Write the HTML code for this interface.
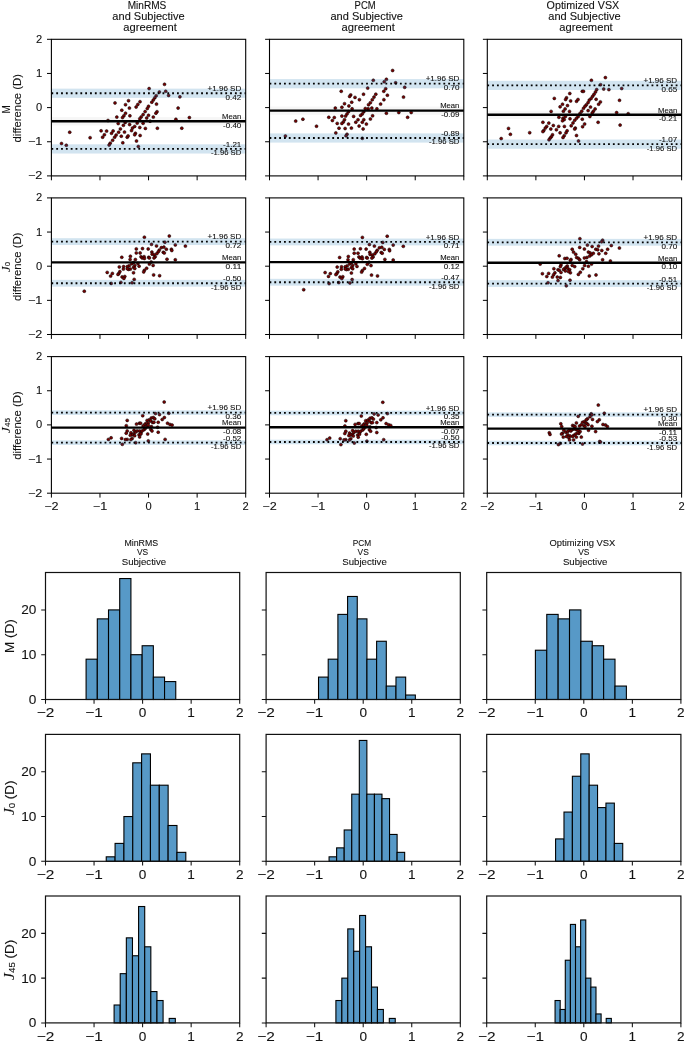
<!DOCTYPE html>
<html><head><meta charset="utf-8"><title>Bland-Altman agreement</title>
<style>html,body{margin:0;padding:0;background:#fff;width:685px;height:1042px;overflow:hidden}svg{display:block;will-change:transform}text{font-family:"Liberation Sans",sans-serif;stroke:#111;stroke-width:0.1px}</style>
</head><body><svg width="685" height="1042" viewBox="0 0 685 1042" font-family="Liberation Sans, sans-serif" fill="#111"><g fill="#780000" stroke="#000" stroke-opacity="0.85" stroke-width="0.6"><circle cx="115.0" cy="102.9" r="1.5"/><circle cx="128.5" cy="100.7" r="1.5"/><circle cx="125.5" cy="104.7" r="1.5"/><circle cx="129.4" cy="108.1" r="1.5"/><circle cx="121.8" cy="110.2" r="1.5"/><circle cx="140.0" cy="101.7" r="1.5"/><circle cx="137.8" cy="104.5" r="1.5"/><circle cx="136.1" cy="107.0" r="1.5"/><circle cx="148.5" cy="106.3" r="1.5"/><circle cx="147.3" cy="108.5" r="1.5"/><circle cx="145.1" cy="111.6" r="1.5"/><circle cx="143.1" cy="114.6" r="1.5"/><circle cx="141.2" cy="116.9" r="1.5"/><circle cx="139.8" cy="118.7" r="1.5"/><circle cx="148.5" cy="115.3" r="1.5"/><circle cx="146.7" cy="118.0" r="1.5"/><circle cx="125.5" cy="113.2" r="1.5"/><circle cx="123.9" cy="115.8" r="1.5"/><circle cx="122.5" cy="117.6" r="1.5"/><circle cx="116.8" cy="117.1" r="1.5"/><circle cx="129.9" cy="115.8" r="1.5"/><circle cx="118.2" cy="123.5" r="1.5"/><circle cx="125.2" cy="122.4" r="1.5"/><circle cx="123.4" cy="125.3" r="1.5"/><circle cx="129.6" cy="124.6" r="1.5"/><circle cx="137.2" cy="123.1" r="1.5"/><circle cx="143.1" cy="123.3" r="1.5"/><circle cx="134.7" cy="126.4" r="1.5"/><circle cx="132.5" cy="128.0" r="1.5"/><circle cx="139.8" cy="127.5" r="1.5"/><circle cx="145.4" cy="128.4" r="1.5"/><circle cx="120.4" cy="128.9" r="1.5"/><circle cx="118.6" cy="132.2" r="1.5"/><circle cx="124.5" cy="132.1" r="1.5"/><circle cx="131.5" cy="130.6" r="1.5"/><circle cx="135.4" cy="133.3" r="1.5"/><circle cx="134.7" cy="134.8" r="1.5"/><circle cx="140.1" cy="135.5" r="1.5"/><circle cx="106.6" cy="131.1" r="1.5"/><circle cx="101.1" cy="130.8" r="1.5"/><circle cx="104.4" cy="134.8" r="1.5"/><circle cx="102.6" cy="137.2" r="1.5"/><circle cx="113.1" cy="130.9" r="1.5"/><circle cx="111.5" cy="133.3" r="1.5"/><circle cx="116.1" cy="135.1" r="1.5"/><circle cx="114.6" cy="137.2" r="1.5"/><circle cx="112.6" cy="140.3" r="1.5"/><circle cx="110.2" cy="143.2" r="1.5"/><circle cx="121.3" cy="136.2" r="1.5"/><circle cx="127.2" cy="137.2" r="1.5"/><circle cx="128.1" cy="135.9" r="1.5"/><circle cx="122.8" cy="142.8" r="1.5"/><circle cx="136.5" cy="141.0" r="1.5"/><circle cx="108.0" cy="120.5" r="1.5"/><circle cx="61.5" cy="143.5" r="1.5"/><circle cx="66.3" cy="145.3" r="1.5"/><circle cx="69.7" cy="132.2" r="1.5"/><circle cx="90.1" cy="137.7" r="1.5"/><circle cx="109.1" cy="145.0" r="1.5"/><circle cx="138.3" cy="146.5" r="1.5"/><circle cx="149.1" cy="88.6" r="1.5"/><circle cx="164.5" cy="84.3" r="1.5"/><circle cx="159.4" cy="92.0" r="1.5"/><circle cx="165.7" cy="91.3" r="1.5"/><circle cx="168.6" cy="95.4" r="1.5"/><circle cx="179.9" cy="96.8" r="1.5"/><circle cx="156.2" cy="95.7" r="1.5"/><circle cx="154.8" cy="97.8" r="1.5"/><circle cx="153.3" cy="100.0" r="1.5"/><circle cx="151.8" cy="102.2" r="1.5"/><circle cx="156.5" cy="104.1" r="1.5"/><circle cx="178.1" cy="108.1" r="1.5"/><circle cx="157.0" cy="111.7" r="1.5"/><circle cx="155.9" cy="113.2" r="1.5"/><circle cx="153.3" cy="117.1" r="1.5"/><circle cx="175.9" cy="119.3" r="1.5"/><circle cx="189.4" cy="117.6" r="1.5"/><circle cx="150.1" cy="121.2" r="1.5"/><circle cx="157.4" cy="128.2" r="1.5"/><circle cx="181.8" cy="128.2" r="1.5"/></g><rect x="51.40" y="88.65" width="194.30" height="9.22" fill="#1f77b4" fill-opacity="0.2"/><rect x="51.40" y="144.31" width="194.30" height="9.22" fill="#1f77b4" fill-opacity="0.2"/><rect x="51.40" y="117.06" width="194.30" height="8.40" fill="#000" fill-opacity="0.035"/><line x1="51.40" x2="245.70" y1="121.26" y2="121.26" stroke="#000" stroke-width="2.35"/><line x1="51.40" x2="245.70" y1="93.26" y2="93.26" stroke="#000" stroke-width="1.82" stroke-dasharray="1.82 3.01"/><line x1="51.40" x2="245.70" y1="148.92" y2="148.92" stroke="#000" stroke-width="1.82" stroke-dasharray="1.82 3.01"/><text x="241.30" y="90.96" text-anchor="end" font-size="7.47" textLength="33.75" lengthAdjust="spacingAndGlyphs">+1.96 SD</text><text x="241.30" y="99.66" text-anchor="end" font-size="7.47" textLength="15.70" lengthAdjust="spacingAndGlyphs">0.42</text><text x="241.30" y="119.06" text-anchor="end" font-size="7.47" textLength="19.21" lengthAdjust="spacingAndGlyphs">Mean</text><text x="241.30" y="127.66" text-anchor="end" font-size="7.47" textLength="18.24" lengthAdjust="spacingAndGlyphs">-0.40</text><text x="241.30" y="146.82" text-anchor="end" font-size="7.47" textLength="18.24" lengthAdjust="spacingAndGlyphs">-1.21</text><text x="241.30" y="155.42" text-anchor="end" font-size="7.47" textLength="30.39" lengthAdjust="spacingAndGlyphs">-1.96 SD</text><rect x="51.40" y="39.30" width="194.30" height="136.60" fill="none" stroke="#000" stroke-width="1.1"/><path d="M47.00 175.90H51.40M51.40 175.90V180.30M47.00 141.75H51.40M99.97 175.90V180.30M47.00 107.60H51.40M148.55 175.90V180.30M47.00 73.45H51.40M197.13 175.90V180.30M47.00 39.30H51.40M245.70 175.90V180.30" stroke="#000" stroke-width="1.0" fill="none"/><text x="42.30" y="179.45" text-anchor="end" font-size="10.34" textLength="14.37" lengthAdjust="spacingAndGlyphs">−2</text><text x="42.30" y="145.30" text-anchor="end" font-size="10.34" textLength="14.37" lengthAdjust="spacingAndGlyphs">−1</text><text x="42.30" y="111.15" text-anchor="end" font-size="10.34" textLength="6.20" lengthAdjust="spacingAndGlyphs">0</text><text x="42.30" y="77.00" text-anchor="end" font-size="10.34" textLength="6.20" lengthAdjust="spacingAndGlyphs">1</text><text x="42.30" y="42.85" text-anchor="end" font-size="10.34" textLength="6.20" lengthAdjust="spacingAndGlyphs">2</text><text x="147.00" y="8.80" text-anchor="middle" font-size="10.34" textLength="38.68" lengthAdjust="spacingAndGlyphs">MinRMS</text><text x="148.55" y="20.00" text-anchor="middle" font-size="10.34" textLength="72.37" lengthAdjust="spacingAndGlyphs">and Subjective</text><text x="150.10" y="31.20" text-anchor="middle" font-size="10.34" textLength="53.46" lengthAdjust="spacingAndGlyphs">agreement</text><g fill="#780000" stroke="#000" stroke-opacity="0.85" stroke-width="0.6"><circle cx="392.6" cy="70.5" r="1.5"/><circle cx="386.4" cy="79.3" r="1.5"/><circle cx="384.2" cy="81.8" r="1.5"/><circle cx="373.3" cy="80.3" r="1.5"/><circle cx="395.6" cy="82.8" r="1.5"/><circle cx="404.7" cy="87.3" r="1.5"/><circle cx="367.7" cy="88.1" r="1.5"/><circle cx="341.2" cy="91.3" r="1.5"/><circle cx="385.7" cy="88.7" r="1.5"/><circle cx="383.8" cy="91.3" r="1.5"/><circle cx="387.4" cy="95.2" r="1.5"/><circle cx="403.5" cy="97.1" r="1.5"/><circle cx="383.9" cy="99.7" r="1.5"/><circle cx="380.6" cy="104.1" r="1.5"/><circle cx="350.7" cy="94.9" r="1.5"/><circle cx="349.6" cy="96.4" r="1.5"/><circle cx="355.0" cy="97.4" r="1.5"/><circle cx="363.5" cy="94.2" r="1.5"/><circle cx="359.4" cy="99.7" r="1.5"/><circle cx="375.8" cy="94.2" r="1.5"/><circle cx="374.0" cy="97.1" r="1.5"/><circle cx="372.3" cy="99.7" r="1.5"/><circle cx="370.4" cy="102.7" r="1.5"/><circle cx="368.5" cy="104.7" r="1.5"/><circle cx="351.7" cy="102.2" r="1.5"/><circle cx="344.5" cy="103.7" r="1.5"/><circle cx="348.9" cy="105.9" r="1.5"/><circle cx="341.9" cy="107.3" r="1.5"/><circle cx="335.3" cy="108.1" r="1.5"/><circle cx="352.1" cy="108.8" r="1.5"/><circle cx="348.5" cy="111.7" r="1.5"/><circle cx="347.0" cy="113.9" r="1.5"/><circle cx="345.6" cy="116.1" r="1.5"/><circle cx="376.9" cy="108.8" r="1.5"/><circle cx="371.8" cy="108.1" r="1.5"/><circle cx="368.2" cy="108.8" r="1.5"/><circle cx="365.3" cy="108.5" r="1.5"/><circle cx="363.8" cy="111.7" r="1.5"/><circle cx="362.3" cy="113.9" r="1.5"/><circle cx="360.6" cy="115.4" r="1.5"/><circle cx="386.4" cy="113.2" r="1.5"/><circle cx="398.8" cy="112.5" r="1.5"/><circle cx="411.2" cy="112.5" r="1.5"/><circle cx="407.6" cy="117.3" r="1.5"/><circle cx="328.8" cy="117.3" r="1.5"/><circle cx="334.3" cy="117.5" r="1.5"/><circle cx="332.4" cy="120.5" r="1.5"/><circle cx="341.9" cy="116.1" r="1.5"/><circle cx="353.6" cy="116.4" r="1.5"/><circle cx="358.0" cy="119.7" r="1.5"/><circle cx="355.8" cy="122.2" r="1.5"/><circle cx="363.8" cy="119.7" r="1.5"/><circle cx="362.3" cy="122.2" r="1.5"/><circle cx="372.6" cy="115.8" r="1.5"/><circle cx="370.4" cy="119.0" r="1.5"/><circle cx="366.4" cy="124.1" r="1.5"/><circle cx="359.1" cy="126.0" r="1.5"/><circle cx="363.1" cy="128.9" r="1.5"/><circle cx="344.5" cy="119.7" r="1.5"/><circle cx="343.4" cy="121.9" r="1.5"/><circle cx="341.9" cy="123.4" r="1.5"/><circle cx="348.5" cy="124.1" r="1.5"/><circle cx="337.2" cy="123.4" r="1.5"/><circle cx="339.0" cy="128.2" r="1.5"/><circle cx="345.1" cy="128.5" r="1.5"/><circle cx="351.4" cy="128.1" r="1.5"/><circle cx="335.8" cy="132.9" r="1.5"/><circle cx="347.0" cy="134.3" r="1.5"/><circle cx="346.0" cy="135.8" r="1.5"/><circle cx="362.3" cy="138.3" r="1.5"/><circle cx="285.4" cy="136.0" r="1.5"/><circle cx="295.7" cy="121.1" r="1.5"/><circle cx="302.9" cy="119.2" r="1.5"/><circle cx="316.5" cy="126.2" r="1.5"/></g><rect x="269.50" y="79.08" width="194.30" height="9.22" fill="#1f77b4" fill-opacity="0.2"/><rect x="269.50" y="133.38" width="194.30" height="9.22" fill="#1f77b4" fill-opacity="0.2"/><rect x="269.50" y="106.47" width="194.30" height="8.40" fill="#000" fill-opacity="0.035"/><line x1="269.50" x2="463.80" y1="110.67" y2="110.67" stroke="#000" stroke-width="2.35"/><line x1="269.50" x2="463.80" y1="83.69" y2="83.69" stroke="#000" stroke-width="1.82" stroke-dasharray="1.82 3.01"/><line x1="269.50" x2="463.80" y1="137.99" y2="137.99" stroke="#000" stroke-width="1.82" stroke-dasharray="1.82 3.01"/><text x="459.40" y="81.39" text-anchor="end" font-size="7.47" textLength="33.75" lengthAdjust="spacingAndGlyphs">+1.96 SD</text><text x="459.40" y="90.09" text-anchor="end" font-size="7.47" textLength="15.70" lengthAdjust="spacingAndGlyphs">0.70</text><text x="459.40" y="108.47" text-anchor="end" font-size="7.47" textLength="19.21" lengthAdjust="spacingAndGlyphs">Mean</text><text x="459.40" y="117.07" text-anchor="end" font-size="7.47" textLength="18.24" lengthAdjust="spacingAndGlyphs">-0.09</text><text x="459.40" y="135.89" text-anchor="end" font-size="7.47" textLength="18.24" lengthAdjust="spacingAndGlyphs">-0.89</text><text x="459.40" y="144.49" text-anchor="end" font-size="7.47" textLength="30.39" lengthAdjust="spacingAndGlyphs">-1.96 SD</text><rect x="269.50" y="39.30" width="194.30" height="136.60" fill="none" stroke="#000" stroke-width="1.1"/><path d="M265.10 175.90H269.50M269.50 175.90V180.30M265.10 141.75H269.50M318.07 175.90V180.30M265.10 107.60H269.50M366.65 175.90V180.30M265.10 73.45H269.50M415.23 175.90V180.30M265.10 39.30H269.50M463.80 175.90V180.30" stroke="#000" stroke-width="1.0" fill="none"/><text x="365.10" y="8.80" text-anchor="middle" font-size="10.34" textLength="21.10" lengthAdjust="spacingAndGlyphs">PCM</text><text x="366.65" y="20.00" text-anchor="middle" font-size="10.34" textLength="72.37" lengthAdjust="spacingAndGlyphs">and Subjective</text><text x="368.20" y="31.20" text-anchor="middle" font-size="10.34" textLength="53.46" lengthAdjust="spacingAndGlyphs">agreement</text><g fill="#780000" stroke="#000" stroke-opacity="0.85" stroke-width="0.6"><circle cx="591.4" cy="80.3" r="1.5"/><circle cx="605.4" cy="77.6" r="1.5"/><circle cx="600.6" cy="84.7" r="1.5"/><circle cx="603.7" cy="89.0" r="1.5"/><circle cx="608.9" cy="89.6" r="1.5"/><circle cx="596.7" cy="89.6" r="1.5"/><circle cx="595.5" cy="91.9" r="1.5"/><circle cx="594.0" cy="94.3" r="1.5"/><circle cx="592.6" cy="96.3" r="1.5"/><circle cx="591.1" cy="98.4" r="1.5"/><circle cx="589.3" cy="100.1" r="1.5"/><circle cx="588.1" cy="102.5" r="1.5"/><circle cx="586.4" cy="104.8" r="1.5"/><circle cx="585.0" cy="106.3" r="1.5"/><circle cx="583.5" cy="108.3" r="1.5"/><circle cx="581.7" cy="111.2" r="1.5"/><circle cx="580.0" cy="113.5" r="1.5"/><circle cx="578.2" cy="116.5" r="1.5"/><circle cx="576.5" cy="118.2" r="1.5"/><circle cx="574.7" cy="120.3" r="1.5"/><circle cx="573.0" cy="122.9" r="1.5"/><circle cx="571.2" cy="125.8" r="1.5"/><circle cx="575.3" cy="128.1" r="1.5"/><circle cx="574.7" cy="129.0" r="1.5"/><circle cx="576.5" cy="135.5" r="1.5"/><circle cx="578.5" cy="141.0" r="1.5"/><circle cx="582.3" cy="91.3" r="1.5"/><circle cx="583.5" cy="91.3" r="1.5"/><circle cx="569.8" cy="93.5" r="1.5"/><circle cx="554.3" cy="98.4" r="1.5"/><circle cx="566.5" cy="97.8" r="1.5"/><circle cx="565.6" cy="99.5" r="1.5"/><circle cx="570.6" cy="100.9" r="1.5"/><circle cx="576.5" cy="101.3" r="1.5"/><circle cx="578.0" cy="99.5" r="1.5"/><circle cx="562.5" cy="104.2" r="1.5"/><circle cx="567.5" cy="105.6" r="1.5"/><circle cx="560.1" cy="106.8" r="1.5"/><circle cx="565.1" cy="108.9" r="1.5"/><circle cx="563.4" cy="111.2" r="1.5"/><circle cx="569.5" cy="111.4" r="1.5"/><circle cx="551.1" cy="111.4" r="1.5"/><circle cx="558.9" cy="117.3" r="1.5"/><circle cx="563.0" cy="118.2" r="1.5"/><circle cx="564.2" cy="119.6" r="1.5"/><circle cx="562.5" cy="120.8" r="1.5"/><circle cx="570.0" cy="118.8" r="1.5"/><circle cx="565.4" cy="116.5" r="1.5"/><circle cx="582.3" cy="119.2" r="1.5"/><circle cx="584.6" cy="124.0" r="1.5"/><circle cx="582.6" cy="126.7" r="1.5"/><circle cx="598.1" cy="122.3" r="1.5"/><circle cx="596.1" cy="99.3" r="1.5"/><circle cx="600.4" cy="101.9" r="1.5"/><circle cx="598.6" cy="104.2" r="1.5"/><circle cx="590.5" cy="107.1" r="1.5"/><circle cx="588.1" cy="110.6" r="1.5"/><circle cx="595.1" cy="108.9" r="1.5"/><circle cx="593.4" cy="111.2" r="1.5"/><circle cx="592.2" cy="113.0" r="1.5"/><circle cx="589.9" cy="116.5" r="1.5"/><circle cx="542.9" cy="122.3" r="1.5"/><circle cx="548.8" cy="123.1" r="1.5"/><circle cx="546.7" cy="126.4" r="1.5"/><circle cx="545.3" cy="128.1" r="1.5"/><circle cx="543.8" cy="130.5" r="1.5"/><circle cx="542.9" cy="131.6" r="1.5"/><circle cx="553.3" cy="125.5" r="1.5"/><circle cx="558.7" cy="126.4" r="1.5"/><circle cx="550.8" cy="129.0" r="1.5"/><circle cx="556.4" cy="129.7" r="1.5"/><circle cx="564.4" cy="126.4" r="1.5"/><circle cx="560.1" cy="132.8" r="1.5"/><circle cx="567.1" cy="130.8" r="1.5"/><circle cx="566.0" cy="132.8" r="1.5"/><circle cx="564.2" cy="135.7" r="1.5"/><circle cx="563.0" cy="137.5" r="1.5"/><circle cx="552.5" cy="134.8" r="1.5"/><circle cx="551.4" cy="136.7" r="1.5"/><circle cx="550.2" cy="138.1" r="1.5"/><circle cx="549.0" cy="139.8" r="1.5"/><circle cx="501.2" cy="138.6" r="1.5"/><circle cx="508.5" cy="128.4" r="1.5"/><circle cx="510.4" cy="134.3" r="1.5"/><circle cx="529.7" cy="132.7" r="1.5"/><circle cx="621.7" cy="88.5" r="1.5"/><circle cx="619.5" cy="100.3" r="1.5"/><circle cx="620.1" cy="125.1" r="1.5"/><circle cx="616.6" cy="112.6" r="1.5"/><circle cx="628.2" cy="113.7" r="1.5"/></g><rect x="487.30" y="80.79" width="194.30" height="9.22" fill="#1f77b4" fill-opacity="0.2"/><rect x="487.30" y="139.53" width="194.30" height="9.22" fill="#1f77b4" fill-opacity="0.2"/><rect x="487.30" y="110.57" width="194.30" height="8.40" fill="#000" fill-opacity="0.035"/><line x1="487.30" x2="681.60" y1="114.77" y2="114.77" stroke="#000" stroke-width="2.35"/><line x1="487.30" x2="681.60" y1="85.40" y2="85.40" stroke="#000" stroke-width="1.82" stroke-dasharray="1.82 3.01"/><line x1="487.30" x2="681.60" y1="144.14" y2="144.14" stroke="#000" stroke-width="1.82" stroke-dasharray="1.82 3.01"/><text x="677.20" y="83.10" text-anchor="end" font-size="7.47" textLength="33.75" lengthAdjust="spacingAndGlyphs">+1.96 SD</text><text x="677.20" y="91.80" text-anchor="end" font-size="7.47" textLength="15.70" lengthAdjust="spacingAndGlyphs">0.65</text><text x="677.20" y="112.57" text-anchor="end" font-size="7.47" textLength="19.21" lengthAdjust="spacingAndGlyphs">Mean</text><text x="677.20" y="121.17" text-anchor="end" font-size="7.47" textLength="18.24" lengthAdjust="spacingAndGlyphs">-0.21</text><text x="677.20" y="142.04" text-anchor="end" font-size="7.47" textLength="18.24" lengthAdjust="spacingAndGlyphs">-1.07</text><text x="677.20" y="150.64" text-anchor="end" font-size="7.47" textLength="30.39" lengthAdjust="spacingAndGlyphs">-1.96 SD</text><rect x="487.30" y="39.30" width="194.30" height="136.60" fill="none" stroke="#000" stroke-width="1.1"/><path d="M482.90 175.90H487.30M487.30 175.90V180.30M482.90 141.75H487.30M535.88 175.90V180.30M482.90 107.60H487.30M584.45 175.90V180.30M482.90 73.45H487.30M633.03 175.90V180.30M482.90 39.30H487.30M681.60 175.90V180.30" stroke="#000" stroke-width="1.0" fill="none"/><text x="582.90" y="8.80" text-anchor="middle" font-size="10.34" textLength="72.54" lengthAdjust="spacingAndGlyphs">Optimized VSX</text><text x="584.45" y="20.00" text-anchor="middle" font-size="10.34" textLength="72.37" lengthAdjust="spacingAndGlyphs">and Subjective</text><text x="586.00" y="31.20" text-anchor="middle" font-size="10.34" textLength="53.46" lengthAdjust="spacingAndGlyphs">agreement</text><g fill="#780000" stroke="#000" stroke-opacity="0.85" stroke-width="0.6"><circle cx="144.4" cy="237.2" r="1.5"/><circle cx="169.3" cy="236.0" r="1.5"/><circle cx="151.5" cy="244.3" r="1.5"/><circle cx="164.9" cy="242.2" r="1.5"/><circle cx="175.3" cy="244.9" r="1.5"/><circle cx="185.4" cy="246.1" r="1.5"/><circle cx="156.5" cy="245.9" r="1.5"/><circle cx="136.3" cy="248.9" r="1.5"/><circle cx="142.5" cy="248.6" r="1.5"/><circle cx="148.2" cy="248.9" r="1.5"/><circle cx="161.4" cy="247.6" r="1.5"/><circle cx="163.9" cy="247.1" r="1.5"/><circle cx="166.4" cy="249.2" r="1.5"/><circle cx="171.4" cy="249.2" r="1.5"/><circle cx="171.8" cy="250.5" r="1.5"/><circle cx="163.3" cy="252.3" r="1.5"/><circle cx="164.3" cy="252.9" r="1.5"/><circle cx="159.3" cy="250.1" r="1.5"/><circle cx="158.3" cy="251.7" r="1.5"/><circle cx="156.9" cy="253.6" r="1.5"/><circle cx="151.9" cy="252.1" r="1.5"/><circle cx="152.2" cy="254.2" r="1.5"/><circle cx="154.4" cy="254.8" r="1.5"/><circle cx="155.2" cy="256.7" r="1.5"/><circle cx="154.0" cy="257.9" r="1.5"/><circle cx="136.3" cy="252.9" r="1.5"/><circle cx="140.1" cy="252.9" r="1.5"/><circle cx="141.0" cy="256.7" r="1.5"/><circle cx="142.2" cy="257.9" r="1.5"/><circle cx="144.1" cy="256.7" r="1.5"/><circle cx="144.4" cy="258.5" r="1.5"/><circle cx="148.7" cy="257.3" r="1.5"/><circle cx="149.4" cy="257.9" r="1.5"/><circle cx="121.8" cy="257.3" r="1.5"/><circle cx="130.4" cy="256.3" r="1.5"/><circle cx="130.1" cy="259.5" r="1.5"/><circle cx="135.4" cy="259.5" r="1.5"/><circle cx="167.0" cy="259.2" r="1.5"/><circle cx="175.3" cy="259.8" r="1.5"/><circle cx="151.2" cy="262.0" r="1.5"/><circle cx="149.4" cy="264.1" r="1.5"/><circle cx="153.1" cy="265.4" r="1.5"/><circle cx="133.5" cy="262.5" r="1.5"/><circle cx="131.7" cy="263.8" r="1.5"/><circle cx="137.9" cy="263.5" r="1.5"/><circle cx="134.8" cy="265.4" r="1.5"/><circle cx="139.1" cy="266.2" r="1.5"/><circle cx="129.2" cy="265.7" r="1.5"/><circle cx="127.3" cy="266.6" r="1.5"/><circle cx="123.6" cy="266.6" r="1.5"/><circle cx="119.3" cy="266.9" r="1.5"/><circle cx="133.5" cy="267.2" r="1.5"/><circle cx="134.8" cy="268.5" r="1.5"/><circle cx="130.4" cy="269.1" r="1.5"/><circle cx="128.6" cy="269.4" r="1.5"/><circle cx="127.3" cy="268.7" r="1.5"/><circle cx="123.4" cy="269.1" r="1.5"/><circle cx="119.9" cy="271.6" r="1.5"/><circle cx="118.9" cy="273.4" r="1.5"/><circle cx="118.0" cy="274.4" r="1.5"/><circle cx="133.5" cy="272.8" r="1.5"/><circle cx="144.4" cy="270.3" r="1.5"/><circle cx="143.7" cy="271.9" r="1.5"/><circle cx="146.6" cy="268.2" r="1.5"/><circle cx="107.2" cy="272.4" r="1.5"/><circle cx="112.4" cy="273.4" r="1.5"/><circle cx="110.6" cy="276.1" r="1.5"/><circle cx="122.1" cy="276.9" r="1.5"/><circle cx="124.8" cy="276.5" r="1.5"/><circle cx="123.9" cy="278.4" r="1.5"/><circle cx="134.2" cy="279.4" r="1.5"/><circle cx="132.1" cy="282.7" r="1.5"/><circle cx="120.9" cy="282.4" r="1.5"/><circle cx="111.2" cy="283.4" r="1.5"/><circle cx="153.6" cy="274.9" r="1.5"/><circle cx="159.6" cy="275.7" r="1.5"/><circle cx="84.3" cy="291.2" r="1.5"/></g><rect x="51.40" y="238.20" width="194.30" height="6.83" fill="#1f77b4" fill-opacity="0.2"/><rect x="51.40" y="279.86" width="194.30" height="6.83" fill="#1f77b4" fill-opacity="0.2"/><line x1="51.40" x2="245.70" y1="262.44" y2="262.44" stroke="#000" stroke-width="2.35"/><line x1="51.40" x2="245.70" y1="241.61" y2="241.61" stroke="#000" stroke-width="1.82" stroke-dasharray="1.82 3.01"/><line x1="51.40" x2="245.70" y1="283.27" y2="283.27" stroke="#000" stroke-width="1.82" stroke-dasharray="1.82 3.01"/><text x="241.30" y="239.31" text-anchor="end" font-size="7.47" textLength="33.75" lengthAdjust="spacingAndGlyphs">+1.96 SD</text><text x="241.30" y="248.01" text-anchor="end" font-size="7.47" textLength="15.70" lengthAdjust="spacingAndGlyphs">0.72</text><text x="241.30" y="260.24" text-anchor="end" font-size="7.47" textLength="19.21" lengthAdjust="spacingAndGlyphs">Mean</text><text x="241.30" y="268.84" text-anchor="end" font-size="7.47" textLength="15.70" lengthAdjust="spacingAndGlyphs">0.11</text><text x="241.30" y="281.17" text-anchor="end" font-size="7.47" textLength="18.24" lengthAdjust="spacingAndGlyphs">-0.50</text><text x="241.30" y="289.77" text-anchor="end" font-size="7.47" textLength="30.39" lengthAdjust="spacingAndGlyphs">-1.96 SD</text><rect x="51.40" y="197.90" width="194.30" height="136.60" fill="none" stroke="#000" stroke-width="1.1"/><path d="M47.00 334.50H51.40M51.40 334.50V338.90M47.00 300.35H51.40M99.97 334.50V338.90M47.00 266.20H51.40M148.55 334.50V338.90M47.00 232.05H51.40M197.13 334.50V338.90M47.00 197.90H51.40M245.70 334.50V338.90" stroke="#000" stroke-width="1.0" fill="none"/><text x="42.30" y="338.05" text-anchor="end" font-size="10.34" textLength="14.37" lengthAdjust="spacingAndGlyphs">−2</text><text x="42.30" y="303.90" text-anchor="end" font-size="10.34" textLength="14.37" lengthAdjust="spacingAndGlyphs">−1</text><text x="42.30" y="269.75" text-anchor="end" font-size="10.34" textLength="6.20" lengthAdjust="spacingAndGlyphs">0</text><text x="42.30" y="235.60" text-anchor="end" font-size="10.34" textLength="6.20" lengthAdjust="spacingAndGlyphs">1</text><text x="42.30" y="201.45" text-anchor="end" font-size="10.34" textLength="6.20" lengthAdjust="spacingAndGlyphs">2</text><g fill="#780000" stroke="#000" stroke-opacity="0.85" stroke-width="0.6"><circle cx="362.4" cy="237.4" r="1.5"/><circle cx="387.2" cy="236.2" r="1.5"/><circle cx="369.4" cy="244.5" r="1.5"/><circle cx="382.8" cy="242.4" r="1.5"/><circle cx="393.2" cy="245.1" r="1.5"/><circle cx="403.3" cy="246.3" r="1.5"/><circle cx="374.4" cy="246.1" r="1.5"/><circle cx="354.2" cy="249.1" r="1.5"/><circle cx="360.4" cy="248.8" r="1.5"/><circle cx="366.1" cy="249.1" r="1.5"/><circle cx="379.4" cy="247.8" r="1.5"/><circle cx="381.8" cy="247.3" r="1.5"/><circle cx="384.3" cy="249.4" r="1.5"/><circle cx="389.3" cy="249.4" r="1.5"/><circle cx="389.6" cy="250.7" r="1.5"/><circle cx="381.2" cy="252.5" r="1.5"/><circle cx="382.2" cy="253.2" r="1.5"/><circle cx="377.2" cy="250.3" r="1.5"/><circle cx="376.2" cy="251.9" r="1.5"/><circle cx="374.8" cy="253.8" r="1.5"/><circle cx="369.8" cy="252.3" r="1.5"/><circle cx="370.1" cy="254.4" r="1.5"/><circle cx="372.3" cy="255.0" r="1.5"/><circle cx="373.1" cy="256.9" r="1.5"/><circle cx="371.9" cy="258.1" r="1.5"/><circle cx="354.2" cy="253.2" r="1.5"/><circle cx="358.0" cy="253.2" r="1.5"/><circle cx="358.9" cy="256.9" r="1.5"/><circle cx="360.1" cy="258.1" r="1.5"/><circle cx="362.0" cy="256.9" r="1.5"/><circle cx="362.4" cy="258.7" r="1.5"/><circle cx="366.6" cy="257.5" r="1.5"/><circle cx="367.3" cy="258.1" r="1.5"/><circle cx="339.6" cy="257.5" r="1.5"/><circle cx="348.3" cy="256.5" r="1.5"/><circle cx="348.0" cy="259.7" r="1.5"/><circle cx="353.3" cy="259.7" r="1.5"/><circle cx="384.9" cy="259.4" r="1.5"/><circle cx="393.2" cy="260.0" r="1.5"/><circle cx="369.1" cy="262.2" r="1.5"/><circle cx="367.3" cy="264.3" r="1.5"/><circle cx="371.0" cy="265.6" r="1.5"/><circle cx="351.4" cy="262.7" r="1.5"/><circle cx="349.6" cy="263.9" r="1.5"/><circle cx="355.8" cy="263.7" r="1.5"/><circle cx="352.7" cy="265.6" r="1.5"/><circle cx="357.0" cy="266.4" r="1.5"/><circle cx="347.1" cy="265.9" r="1.5"/><circle cx="345.2" cy="266.8" r="1.5"/><circle cx="341.5" cy="266.8" r="1.5"/><circle cx="337.2" cy="267.1" r="1.5"/><circle cx="351.4" cy="267.4" r="1.5"/><circle cx="352.7" cy="268.7" r="1.5"/><circle cx="348.3" cy="269.3" r="1.5"/><circle cx="346.5" cy="269.6" r="1.5"/><circle cx="345.2" cy="268.9" r="1.5"/><circle cx="341.3" cy="269.3" r="1.5"/><circle cx="337.8" cy="271.8" r="1.5"/><circle cx="336.8" cy="273.6" r="1.5"/><circle cx="335.9" cy="274.6" r="1.5"/><circle cx="351.4" cy="273.0" r="1.5"/><circle cx="362.4" cy="270.5" r="1.5"/><circle cx="361.6" cy="272.1" r="1.5"/><circle cx="364.5" cy="268.4" r="1.5"/><circle cx="325.1" cy="272.6" r="1.5"/><circle cx="330.3" cy="273.6" r="1.5"/><circle cx="328.5" cy="276.4" r="1.5"/><circle cx="340.0" cy="277.1" r="1.5"/><circle cx="342.8" cy="276.7" r="1.5"/><circle cx="341.8" cy="278.6" r="1.5"/><circle cx="352.1" cy="279.6" r="1.5"/><circle cx="349.9" cy="282.9" r="1.5"/><circle cx="338.8" cy="282.6" r="1.5"/><circle cx="329.1" cy="283.6" r="1.5"/><circle cx="371.5" cy="275.1" r="1.5"/><circle cx="377.5" cy="275.9" r="1.5"/><circle cx="303.7" cy="289.7" r="1.5"/></g><rect x="269.50" y="238.54" width="194.30" height="6.83" fill="#1f77b4" fill-opacity="0.2"/><rect x="269.50" y="278.84" width="194.30" height="6.83" fill="#1f77b4" fill-opacity="0.2"/><line x1="269.50" x2="463.80" y1="262.10" y2="262.10" stroke="#000" stroke-width="2.35"/><line x1="269.50" x2="463.80" y1="241.95" y2="241.95" stroke="#000" stroke-width="1.82" stroke-dasharray="1.82 3.01"/><line x1="269.50" x2="463.80" y1="282.25" y2="282.25" stroke="#000" stroke-width="1.82" stroke-dasharray="1.82 3.01"/><text x="459.40" y="239.65" text-anchor="end" font-size="7.47" textLength="33.75" lengthAdjust="spacingAndGlyphs">+1.96 SD</text><text x="459.40" y="248.35" text-anchor="end" font-size="7.47" textLength="15.70" lengthAdjust="spacingAndGlyphs">0.71</text><text x="459.40" y="259.90" text-anchor="end" font-size="7.47" textLength="19.21" lengthAdjust="spacingAndGlyphs">Mean</text><text x="459.40" y="268.50" text-anchor="end" font-size="7.47" textLength="15.70" lengthAdjust="spacingAndGlyphs">0.12</text><text x="459.40" y="280.15" text-anchor="end" font-size="7.47" textLength="18.24" lengthAdjust="spacingAndGlyphs">-0.47</text><text x="459.40" y="288.75" text-anchor="end" font-size="7.47" textLength="30.39" lengthAdjust="spacingAndGlyphs">-1.96 SD</text><rect x="269.50" y="197.90" width="194.30" height="136.60" fill="none" stroke="#000" stroke-width="1.1"/><path d="M265.10 334.50H269.50M269.50 334.50V338.90M265.10 300.35H269.50M318.07 334.50V338.90M265.10 266.20H269.50M366.65 334.50V338.90M265.10 232.05H269.50M415.23 334.50V338.90M265.10 197.90H269.50M463.80 334.50V338.90" stroke="#000" stroke-width="1.0" fill="none"/><g fill="#780000" stroke="#000" stroke-opacity="0.85" stroke-width="0.6"><circle cx="579.9" cy="238.7" r="1.5"/><circle cx="602.6" cy="240.2" r="1.5"/><circle cx="601.6" cy="241.8" r="1.5"/><circle cx="587.4" cy="245.1" r="1.5"/><circle cx="611.3" cy="245.5" r="1.5"/><circle cx="592.1" cy="246.5" r="1.5"/><circle cx="598.5" cy="246.1" r="1.5"/><circle cx="579.7" cy="247.4" r="1.5"/><circle cx="584.4" cy="249.0" r="1.5"/><circle cx="572.2" cy="249.2" r="1.5"/><circle cx="595.8" cy="249.2" r="1.5"/><circle cx="597.7" cy="249.8" r="1.5"/><circle cx="601.8" cy="250.5" r="1.5"/><circle cx="607.6" cy="249.2" r="1.5"/><circle cx="619.4" cy="248.0" r="1.5"/><circle cx="573.5" cy="252.1" r="1.5"/><circle cx="588.4" cy="252.1" r="1.5"/><circle cx="590.2" cy="252.9" r="1.5"/><circle cx="593.3" cy="253.3" r="1.5"/><circle cx="598.9" cy="253.8" r="1.5"/><circle cx="605.7" cy="253.3" r="1.5"/><circle cx="575.7" cy="254.2" r="1.5"/><circle cx="591.5" cy="254.8" r="1.5"/><circle cx="589.6" cy="256.1" r="1.5"/><circle cx="586.9" cy="257.5" r="1.5"/><circle cx="584.4" cy="257.9" r="1.5"/><circle cx="559.2" cy="255.8" r="1.5"/><circle cx="564.8" cy="258.5" r="1.5"/><circle cx="567.0" cy="258.3" r="1.5"/><circle cx="571.0" cy="259.5" r="1.5"/><circle cx="570.4" cy="260.4" r="1.5"/><circle cx="576.6" cy="257.5" r="1.5"/><circle cx="578.4" cy="258.3" r="1.5"/><circle cx="579.7" cy="259.8" r="1.5"/><circle cx="602.6" cy="259.8" r="1.5"/><circle cx="610.4" cy="261.0" r="1.5"/><circle cx="540.2" cy="264.1" r="1.5"/><circle cx="561.0" cy="265.0" r="1.5"/><circle cx="560.4" cy="266.6" r="1.5"/><circle cx="567.3" cy="266.0" r="1.5"/><circle cx="566.0" cy="267.2" r="1.5"/><circle cx="572.2" cy="265.4" r="1.5"/><circle cx="574.7" cy="266.6" r="1.5"/><circle cx="584.6" cy="265.4" r="1.5"/><circle cx="588.4" cy="266.2" r="1.5"/><circle cx="591.5" cy="264.1" r="1.5"/><circle cx="586.5" cy="261.6" r="1.5"/><circle cx="553.9" cy="268.7" r="1.5"/><circle cx="558.0" cy="269.7" r="1.5"/><circle cx="559.2" cy="270.3" r="1.5"/><circle cx="564.5" cy="268.7" r="1.5"/><circle cx="563.5" cy="269.4" r="1.5"/><circle cx="565.4" cy="270.9" r="1.5"/><circle cx="567.9" cy="268.5" r="1.5"/><circle cx="569.7" cy="269.7" r="1.5"/><circle cx="570.4" cy="272.8" r="1.5"/><circle cx="568.5" cy="271.6" r="1.5"/><circle cx="561.0" cy="272.4" r="1.5"/><circle cx="554.9" cy="272.8" r="1.5"/><circle cx="553.6" cy="274.7" r="1.5"/><circle cx="548.6" cy="273.4" r="1.5"/><circle cx="542.4" cy="273.7" r="1.5"/><circle cx="546.8" cy="276.5" r="1.5"/><circle cx="552.4" cy="277.1" r="1.5"/><circle cx="557.3" cy="277.1" r="1.5"/><circle cx="560.4" cy="277.4" r="1.5"/><circle cx="578.4" cy="274.4" r="1.5"/><circle cx="580.3" cy="272.2" r="1.5"/><circle cx="582.8" cy="268.7" r="1.5"/><circle cx="589.3" cy="275.9" r="1.5"/><circle cx="596.0" cy="274.9" r="1.5"/><circle cx="548.0" cy="282.7" r="1.5"/><circle cx="558.0" cy="280.6" r="1.5"/><circle cx="570.0" cy="280.2" r="1.5"/><circle cx="566.3" cy="285.8" r="1.5"/></g><rect x="487.30" y="238.88" width="194.30" height="6.83" fill="#1f77b4" fill-opacity="0.2"/><rect x="487.30" y="280.20" width="194.30" height="6.83" fill="#1f77b4" fill-opacity="0.2"/><line x1="487.30" x2="681.60" y1="262.78" y2="262.78" stroke="#000" stroke-width="2.35"/><line x1="487.30" x2="681.60" y1="242.30" y2="242.30" stroke="#000" stroke-width="1.82" stroke-dasharray="1.82 3.01"/><line x1="487.30" x2="681.60" y1="283.62" y2="283.62" stroke="#000" stroke-width="1.82" stroke-dasharray="1.82 3.01"/><text x="677.20" y="240.00" text-anchor="end" font-size="7.47" textLength="33.75" lengthAdjust="spacingAndGlyphs">+1.96 SD</text><text x="677.20" y="248.70" text-anchor="end" font-size="7.47" textLength="15.70" lengthAdjust="spacingAndGlyphs">0.70</text><text x="677.20" y="260.58" text-anchor="end" font-size="7.47" textLength="19.21" lengthAdjust="spacingAndGlyphs">Mean</text><text x="677.20" y="269.18" text-anchor="end" font-size="7.47" textLength="15.70" lengthAdjust="spacingAndGlyphs">0.10</text><text x="677.20" y="281.52" text-anchor="end" font-size="7.47" textLength="18.24" lengthAdjust="spacingAndGlyphs">-0.51</text><text x="677.20" y="290.12" text-anchor="end" font-size="7.47" textLength="30.39" lengthAdjust="spacingAndGlyphs">-1.96 SD</text><rect x="487.30" y="197.90" width="194.30" height="136.60" fill="none" stroke="#000" stroke-width="1.1"/><path d="M482.90 334.50H487.30M487.30 334.50V338.90M482.90 300.35H487.30M535.88 334.50V338.90M482.90 266.20H487.30M584.45 334.50V338.90M482.90 232.05H487.30M633.03 334.50V338.90M482.90 197.90H487.30M681.60 334.50V338.90" stroke="#000" stroke-width="1.0" fill="none"/><g fill="#780000" stroke="#000" stroke-opacity="0.85" stroke-width="0.6"><circle cx="164.2" cy="402.0" r="1.5"/><circle cx="142.7" cy="415.7" r="1.5"/><circle cx="155.5" cy="413.6" r="1.5"/><circle cx="159.5" cy="414.6" r="1.5"/><circle cx="168.8" cy="413.3" r="1.5"/><circle cx="127.2" cy="420.4" r="1.5"/><circle cx="164.4" cy="417.5" r="1.5"/><circle cx="162.2" cy="419.5" r="1.5"/><circle cx="158.2" cy="422.3" r="1.5"/><circle cx="167.5" cy="423.2" r="1.5"/><circle cx="170.0" cy="424.5" r="1.5"/><circle cx="172.1" cy="425.1" r="1.5"/><circle cx="126.3" cy="425.7" r="1.5"/><circle cx="136.5" cy="424.1" r="1.5"/><circle cx="139.4" cy="423.2" r="1.5"/><circle cx="140.6" cy="423.2" r="1.5"/><circle cx="147.1" cy="420.4" r="1.5"/><circle cx="149.3" cy="419.8" r="1.5"/><circle cx="151.4" cy="417.9" r="1.5"/><circle cx="153.3" cy="417.5" r="1.5"/><circle cx="154.8" cy="418.8" r="1.5"/><circle cx="150.8" cy="421.0" r="1.5"/><circle cx="152.7" cy="422.5" r="1.5"/><circle cx="153.9" cy="422.3" r="1.5"/><circle cx="148.3" cy="422.9" r="1.5"/><circle cx="145.8" cy="423.5" r="1.5"/><circle cx="144.6" cy="424.7" r="1.5"/><circle cx="143.1" cy="426.0" r="1.5"/><circle cx="151.4" cy="426.6" r="1.5"/><circle cx="157.6" cy="427.2" r="1.5"/><circle cx="127.2" cy="430.9" r="1.5"/><circle cx="126.2" cy="433.2" r="1.5"/><circle cx="130.9" cy="432.8" r="1.5"/><circle cx="134.0" cy="430.3" r="1.5"/><circle cx="135.3" cy="432.2" r="1.5"/><circle cx="137.2" cy="430.9" r="1.5"/><circle cx="139.6" cy="430.9" r="1.5"/><circle cx="140.9" cy="432.8" r="1.5"/><circle cx="142.1" cy="430.9" r="1.5"/><circle cx="144.0" cy="429.7" r="1.5"/><circle cx="145.2" cy="428.5" r="1.5"/><circle cx="146.8" cy="426.6" r="1.5"/><circle cx="148.3" cy="425.4" r="1.5"/><circle cx="133.7" cy="434.0" r="1.5"/><circle cx="132.2" cy="434.7" r="1.5"/><circle cx="130.3" cy="435.3" r="1.5"/><circle cx="134.7" cy="435.7" r="1.5"/><circle cx="139.0" cy="434.7" r="1.5"/><circle cx="140.9" cy="434.0" r="1.5"/><circle cx="139.6" cy="436.9" r="1.5"/><circle cx="147.7" cy="434.0" r="1.5"/><circle cx="150.8" cy="429.4" r="1.5"/><circle cx="152.0" cy="430.9" r="1.5"/><circle cx="158.2" cy="432.2" r="1.5"/><circle cx="132.2" cy="438.4" r="1.5"/><circle cx="130.9" cy="439.6" r="1.5"/><circle cx="127.2" cy="439.4" r="1.5"/><circle cx="125.4" cy="439.6" r="1.5"/><circle cx="121.6" cy="438.4" r="1.5"/><circle cx="111.1" cy="437.8" r="1.5"/><circle cx="108.4" cy="439.4" r="1.5"/><circle cx="135.7" cy="442.7" r="1.5"/><circle cx="148.3" cy="440.9" r="1.5"/><circle cx="165.1" cy="439.4" r="1.5"/><circle cx="122.3" cy="444.3" r="1.5"/></g><rect x="51.40" y="410.32" width="194.30" height="4.58" fill="#1f77b4" fill-opacity="0.2"/><rect x="51.40" y="440.37" width="194.30" height="4.58" fill="#1f77b4" fill-opacity="0.2"/><line x1="51.40" x2="245.70" y1="427.63" y2="427.63" stroke="#000" stroke-width="2.35"/><line x1="51.40" x2="245.70" y1="412.61" y2="412.61" stroke="#000" stroke-width="1.82" stroke-dasharray="1.82 3.01"/><line x1="51.40" x2="245.70" y1="442.66" y2="442.66" stroke="#000" stroke-width="1.82" stroke-dasharray="1.82 3.01"/><text x="241.30" y="410.31" text-anchor="end" font-size="7.47" textLength="33.75" lengthAdjust="spacingAndGlyphs">+1.96 SD</text><text x="241.30" y="419.01" text-anchor="end" font-size="7.47" textLength="15.70" lengthAdjust="spacingAndGlyphs">0.36</text><text x="241.30" y="425.43" text-anchor="end" font-size="7.47" textLength="19.21" lengthAdjust="spacingAndGlyphs">Mean</text><text x="241.30" y="434.03" text-anchor="end" font-size="7.47" textLength="18.24" lengthAdjust="spacingAndGlyphs">-0.08</text><text x="241.30" y="440.56" text-anchor="end" font-size="7.47" textLength="18.24" lengthAdjust="spacingAndGlyphs">-0.52</text><text x="241.30" y="449.16" text-anchor="end" font-size="7.47" textLength="30.39" lengthAdjust="spacingAndGlyphs">-1.96 SD</text><rect x="51.40" y="356.60" width="194.30" height="136.60" fill="none" stroke="#000" stroke-width="1.1"/><path d="M47.00 493.20H51.40M51.40 493.20V497.60M47.00 459.05H51.40M99.97 493.20V497.60M47.00 424.90H51.40M148.55 493.20V497.60M47.00 390.75H51.40M197.13 493.20V497.60M47.00 356.60H51.40M245.70 493.20V497.60" stroke="#000" stroke-width="1.0" fill="none"/><text x="42.30" y="496.75" text-anchor="end" font-size="10.34" textLength="14.37" lengthAdjust="spacingAndGlyphs">−2</text><text x="42.30" y="462.60" text-anchor="end" font-size="10.34" textLength="14.37" lengthAdjust="spacingAndGlyphs">−1</text><text x="42.30" y="428.45" text-anchor="end" font-size="10.34" textLength="6.20" lengthAdjust="spacingAndGlyphs">0</text><text x="42.30" y="394.30" text-anchor="end" font-size="10.34" textLength="6.20" lengthAdjust="spacingAndGlyphs">1</text><text x="42.30" y="360.15" text-anchor="end" font-size="10.34" textLength="6.20" lengthAdjust="spacingAndGlyphs">2</text><text x="51.40" y="509.90" text-anchor="middle" font-size="10.34" textLength="14.37" lengthAdjust="spacingAndGlyphs">−2</text><text x="99.97" y="509.90" text-anchor="middle" font-size="10.34" textLength="14.37" lengthAdjust="spacingAndGlyphs">−1</text><text x="148.55" y="509.90" text-anchor="middle" font-size="10.34" textLength="6.20" lengthAdjust="spacingAndGlyphs">0</text><text x="197.13" y="509.90" text-anchor="middle" font-size="10.34" textLength="6.20" lengthAdjust="spacingAndGlyphs">1</text><text x="245.70" y="509.90" text-anchor="middle" font-size="10.34" textLength="6.20" lengthAdjust="spacingAndGlyphs">2</text><g fill="#780000" stroke="#000" stroke-opacity="0.85" stroke-width="0.6"><circle cx="382.8" cy="402.3" r="1.5"/><circle cx="361.3" cy="416.0" r="1.5"/><circle cx="374.1" cy="413.9" r="1.5"/><circle cx="378.1" cy="414.9" r="1.5"/><circle cx="387.4" cy="413.6" r="1.5"/><circle cx="345.8" cy="420.7" r="1.5"/><circle cx="383.0" cy="417.8" r="1.5"/><circle cx="380.8" cy="419.8" r="1.5"/><circle cx="376.8" cy="422.6" r="1.5"/><circle cx="386.1" cy="423.6" r="1.5"/><circle cx="388.6" cy="424.8" r="1.5"/><circle cx="390.7" cy="425.4" r="1.5"/><circle cx="344.9" cy="426.0" r="1.5"/><circle cx="355.1" cy="424.4" r="1.5"/><circle cx="358.0" cy="423.6" r="1.5"/><circle cx="359.2" cy="423.6" r="1.5"/><circle cx="365.7" cy="420.7" r="1.5"/><circle cx="367.9" cy="420.1" r="1.5"/><circle cx="370.0" cy="418.2" r="1.5"/><circle cx="371.9" cy="417.8" r="1.5"/><circle cx="373.4" cy="419.1" r="1.5"/><circle cx="369.4" cy="421.3" r="1.5"/><circle cx="371.3" cy="422.8" r="1.5"/><circle cx="372.5" cy="422.6" r="1.5"/><circle cx="366.9" cy="423.2" r="1.5"/><circle cx="364.4" cy="423.8" r="1.5"/><circle cx="363.2" cy="425.0" r="1.5"/><circle cx="361.7" cy="426.3" r="1.5"/><circle cx="370.0" cy="426.9" r="1.5"/><circle cx="376.2" cy="427.5" r="1.5"/><circle cx="345.8" cy="431.2" r="1.5"/><circle cx="344.8" cy="433.5" r="1.5"/><circle cx="349.5" cy="433.1" r="1.5"/><circle cx="352.6" cy="430.6" r="1.5"/><circle cx="353.9" cy="432.5" r="1.5"/><circle cx="355.8" cy="431.2" r="1.5"/><circle cx="358.2" cy="431.2" r="1.5"/><circle cx="359.5" cy="433.1" r="1.5"/><circle cx="360.7" cy="431.2" r="1.5"/><circle cx="362.6" cy="430.0" r="1.5"/><circle cx="363.8" cy="428.8" r="1.5"/><circle cx="365.4" cy="426.9" r="1.5"/><circle cx="366.9" cy="425.7" r="1.5"/><circle cx="352.3" cy="434.3" r="1.5"/><circle cx="350.8" cy="435.0" r="1.5"/><circle cx="348.9" cy="435.6" r="1.5"/><circle cx="353.3" cy="436.0" r="1.5"/><circle cx="357.6" cy="435.0" r="1.5"/><circle cx="359.5" cy="434.3" r="1.5"/><circle cx="358.2" cy="437.2" r="1.5"/><circle cx="366.3" cy="434.3" r="1.5"/><circle cx="369.4" cy="429.8" r="1.5"/><circle cx="370.6" cy="431.2" r="1.5"/><circle cx="376.8" cy="432.5" r="1.5"/><circle cx="350.8" cy="438.7" r="1.5"/><circle cx="349.5" cy="439.9" r="1.5"/><circle cx="345.8" cy="439.7" r="1.5"/><circle cx="344.0" cy="439.9" r="1.5"/><circle cx="340.2" cy="438.7" r="1.5"/><circle cx="329.7" cy="438.1" r="1.5"/><circle cx="327.0" cy="439.7" r="1.5"/><circle cx="354.3" cy="443.0" r="1.5"/><circle cx="366.9" cy="441.2" r="1.5"/><circle cx="383.7" cy="439.7" r="1.5"/><circle cx="340.9" cy="444.6" r="1.5"/></g><rect x="269.50" y="410.66" width="194.30" height="4.58" fill="#1f77b4" fill-opacity="0.2"/><rect x="269.50" y="439.69" width="194.30" height="4.58" fill="#1f77b4" fill-opacity="0.2"/><line x1="269.50" x2="463.80" y1="427.29" y2="427.29" stroke="#000" stroke-width="2.35"/><line x1="269.50" x2="463.80" y1="412.95" y2="412.95" stroke="#000" stroke-width="1.82" stroke-dasharray="1.82 3.01"/><line x1="269.50" x2="463.80" y1="441.98" y2="441.98" stroke="#000" stroke-width="1.82" stroke-dasharray="1.82 3.01"/><text x="459.40" y="410.65" text-anchor="end" font-size="7.47" textLength="33.75" lengthAdjust="spacingAndGlyphs">+1.96 SD</text><text x="459.40" y="419.35" text-anchor="end" font-size="7.47" textLength="15.70" lengthAdjust="spacingAndGlyphs">0.35</text><text x="459.40" y="425.09" text-anchor="end" font-size="7.47" textLength="19.21" lengthAdjust="spacingAndGlyphs">Mean</text><text x="459.40" y="433.69" text-anchor="end" font-size="7.47" textLength="18.24" lengthAdjust="spacingAndGlyphs">-0.07</text><text x="459.40" y="439.88" text-anchor="end" font-size="7.47" textLength="18.24" lengthAdjust="spacingAndGlyphs">-0.50</text><text x="459.40" y="448.48" text-anchor="end" font-size="7.47" textLength="30.39" lengthAdjust="spacingAndGlyphs">-1.96 SD</text><rect x="269.50" y="356.60" width="194.30" height="136.60" fill="none" stroke="#000" stroke-width="1.1"/><path d="M265.10 493.20H269.50M269.50 493.20V497.60M265.10 459.05H269.50M318.07 493.20V497.60M265.10 424.90H269.50M366.65 493.20V497.60M265.10 390.75H269.50M415.23 493.20V497.60M265.10 356.60H269.50M463.80 493.20V497.60" stroke="#000" stroke-width="1.0" fill="none"/><text x="269.50" y="509.90" text-anchor="middle" font-size="10.34" textLength="14.37" lengthAdjust="spacingAndGlyphs">−2</text><text x="318.07" y="509.90" text-anchor="middle" font-size="10.34" textLength="14.37" lengthAdjust="spacingAndGlyphs">−1</text><text x="366.65" y="509.90" text-anchor="middle" font-size="10.34" textLength="6.20" lengthAdjust="spacingAndGlyphs">0</text><text x="415.23" y="509.90" text-anchor="middle" font-size="10.34" textLength="6.20" lengthAdjust="spacingAndGlyphs">1</text><text x="463.80" y="509.90" text-anchor="middle" font-size="10.34" textLength="6.20" lengthAdjust="spacingAndGlyphs">2</text><g fill="#780000" stroke="#000" stroke-opacity="0.85" stroke-width="0.6"><circle cx="598.3" cy="405.1" r="1.5"/><circle cx="578.2" cy="416.3" r="1.5"/><circle cx="591.2" cy="413.8" r="1.5"/><circle cx="604.3" cy="413.3" r="1.5"/><circle cx="591.9" cy="414.8" r="1.5"/><circle cx="590.0" cy="416.7" r="1.5"/><circle cx="587.5" cy="418.8" r="1.5"/><circle cx="586.3" cy="419.8" r="1.5"/><circle cx="592.5" cy="419.4" r="1.5"/><circle cx="599.3" cy="419.8" r="1.5"/><circle cx="597.4" cy="421.6" r="1.5"/><circle cx="603.0" cy="424.5" r="1.5"/><circle cx="605.5" cy="425.0" r="1.5"/><circle cx="607.4" cy="426.6" r="1.5"/><circle cx="560.8" cy="423.8" r="1.5"/><circle cx="561.7" cy="426.6" r="1.5"/><circle cx="576.4" cy="422.9" r="1.5"/><circle cx="572.6" cy="425.4" r="1.5"/><circle cx="573.9" cy="426.0" r="1.5"/><circle cx="575.1" cy="426.6" r="1.5"/><circle cx="579.5" cy="426.0" r="1.5"/><circle cx="581.3" cy="424.7" r="1.5"/><circle cx="582.5" cy="422.3" r="1.5"/><circle cx="584.4" cy="421.6" r="1.5"/><circle cx="585.7" cy="422.9" r="1.5"/><circle cx="586.9" cy="423.5" r="1.5"/><circle cx="583.8" cy="425.4" r="1.5"/><circle cx="585.0" cy="426.6" r="1.5"/><circle cx="588.1" cy="424.7" r="1.5"/><circle cx="591.9" cy="426.2" r="1.5"/><circle cx="588.5" cy="430.3" r="1.5"/><circle cx="595.6" cy="431.6" r="1.5"/><circle cx="563.9" cy="430.3" r="1.5"/><circle cx="562.5" cy="433.2" r="1.5"/><circle cx="561.5" cy="434.0" r="1.5"/><circle cx="565.8" cy="432.2" r="1.5"/><circle cx="567.7" cy="431.6" r="1.5"/><circle cx="569.1" cy="430.3" r="1.5"/><circle cx="570.8" cy="430.9" r="1.5"/><circle cx="572.0" cy="429.7" r="1.5"/><circle cx="573.9" cy="429.1" r="1.5"/><circle cx="576.4" cy="429.7" r="1.5"/><circle cx="578.2" cy="430.3" r="1.5"/><circle cx="580.1" cy="431.6" r="1.5"/><circle cx="578.8" cy="433.4" r="1.5"/><circle cx="577.6" cy="432.8" r="1.5"/><circle cx="575.7" cy="434.0" r="1.5"/><circle cx="573.9" cy="435.3" r="1.5"/><circle cx="572.6" cy="436.5" r="1.5"/><circle cx="570.1" cy="435.9" r="1.5"/><circle cx="567.7" cy="434.7" r="1.5"/><circle cx="566.4" cy="436.5" r="1.5"/><circle cx="563.3" cy="437.1" r="1.5"/><circle cx="568.9" cy="437.8" r="1.5"/><circle cx="576.4" cy="437.1" r="1.5"/><circle cx="573.6" cy="439.9" r="1.5"/><circle cx="569.5" cy="439.9" r="1.5"/><circle cx="581.3" cy="437.1" r="1.5"/><circle cx="549.3" cy="432.8" r="1.5"/><circle cx="550.0" cy="434.4" r="1.5"/><circle cx="558.4" cy="444.6" r="1.5"/><circle cx="560.2" cy="443.4" r="1.5"/><circle cx="582.5" cy="444.0" r="1.5"/><circle cx="599.7" cy="441.5" r="1.5"/><circle cx="600.5" cy="442.1" r="1.5"/></g><rect x="487.30" y="412.37" width="194.30" height="4.58" fill="#1f77b4" fill-opacity="0.2"/><rect x="487.30" y="440.71" width="194.30" height="4.58" fill="#1f77b4" fill-opacity="0.2"/><line x1="487.30" x2="681.60" y1="428.66" y2="428.66" stroke="#000" stroke-width="2.35"/><line x1="487.30" x2="681.60" y1="414.66" y2="414.66" stroke="#000" stroke-width="1.82" stroke-dasharray="1.82 3.01"/><line x1="487.30" x2="681.60" y1="443.00" y2="443.00" stroke="#000" stroke-width="1.82" stroke-dasharray="1.82 3.01"/><text x="677.20" y="412.36" text-anchor="end" font-size="7.47" textLength="33.75" lengthAdjust="spacingAndGlyphs">+1.96 SD</text><text x="677.20" y="421.06" text-anchor="end" font-size="7.47" textLength="15.70" lengthAdjust="spacingAndGlyphs">0.30</text><text x="677.20" y="426.46" text-anchor="end" font-size="7.47" textLength="19.21" lengthAdjust="spacingAndGlyphs">Mean</text><text x="677.20" y="435.06" text-anchor="end" font-size="7.47" textLength="18.24" lengthAdjust="spacingAndGlyphs">-0.11</text><text x="677.20" y="440.90" text-anchor="end" font-size="7.47" textLength="18.24" lengthAdjust="spacingAndGlyphs">-0.53</text><text x="677.20" y="449.50" text-anchor="end" font-size="7.47" textLength="30.39" lengthAdjust="spacingAndGlyphs">-1.96 SD</text><rect x="487.30" y="356.60" width="194.30" height="136.60" fill="none" stroke="#000" stroke-width="1.1"/><path d="M482.90 493.20H487.30M487.30 493.20V497.60M482.90 459.05H487.30M535.88 493.20V497.60M482.90 424.90H487.30M584.45 493.20V497.60M482.90 390.75H487.30M633.03 493.20V497.60M482.90 356.60H487.30M681.60 493.20V497.60" stroke="#000" stroke-width="1.0" fill="none"/><text x="487.30" y="509.90" text-anchor="middle" font-size="10.34" textLength="14.37" lengthAdjust="spacingAndGlyphs">−2</text><text x="535.88" y="509.90" text-anchor="middle" font-size="10.34" textLength="14.37" lengthAdjust="spacingAndGlyphs">−1</text><text x="584.45" y="509.90" text-anchor="middle" font-size="10.34" textLength="6.20" lengthAdjust="spacingAndGlyphs">0</text><text x="633.03" y="509.90" text-anchor="middle" font-size="10.34" textLength="6.20" lengthAdjust="spacingAndGlyphs">1</text><text x="681.60" y="509.90" text-anchor="middle" font-size="10.34" textLength="6.20" lengthAdjust="spacingAndGlyphs">2</text><text transform="translate(9.80,109.50) rotate(-90)" text-anchor="middle" font-size="10.34" textLength="8.20" lengthAdjust="spacingAndGlyphs"><tspan font-size="10.34">M</tspan></text><text transform="translate(20.60,108.20) rotate(-90)" text-anchor="middle" font-size="10.34" textLength="68.50" lengthAdjust="spacingAndGlyphs"><tspan font-size="10.34">difference (D)</tspan></text><text transform="translate(9.60,266.90) rotate(-90)" text-anchor="middle" font-size="10.34" textLength="10.00" lengthAdjust="spacingAndGlyphs"><tspan font-size="11.89" font-style="italic" font-family="Liberation Serif, serif">J</tspan><tspan font-size="7.44" dy="0.80">0</tspan></text><text transform="translate(20.60,266.80) rotate(-90)" text-anchor="middle" font-size="10.34" textLength="68.50" lengthAdjust="spacingAndGlyphs"><tspan font-size="10.34">difference (D)</tspan></text><text transform="translate(9.60,425.50) rotate(-90)" text-anchor="middle" font-size="10.34" textLength="14.80" lengthAdjust="spacingAndGlyphs"><tspan font-size="11.89" font-style="italic" font-family="Liberation Serif, serif">J</tspan><tspan font-size="7.44" dy="0.80">45</tspan></text><text transform="translate(20.60,425.50) rotate(-90)" text-anchor="middle" font-size="10.34" textLength="68.50" lengthAdjust="spacingAndGlyphs"><tspan font-size="10.34">difference (D)</tspan></text><g fill="#5799c7" stroke="#000" stroke-width="1.1"><rect x="86.09" y="659.18" width="11.21" height="40.32"/><rect x="97.30" y="618.87" width="11.21" height="80.63"/><rect x="108.51" y="609.91" width="11.21" height="89.59"/><rect x="119.71" y="578.55" width="11.21" height="120.95"/><rect x="130.92" y="654.70" width="11.21" height="44.80"/><rect x="142.13" y="645.74" width="11.21" height="53.76"/><rect x="153.34" y="677.10" width="11.21" height="22.40"/><rect x="164.55" y="681.58" width="11.21" height="17.92"/></g><rect x="45.50" y="572.50" width="194.20" height="127.00" fill="none" stroke="#111" stroke-width="1.2"/><path d="M45.50 699.50V703.80M94.05 699.50V703.80M142.60 699.50V703.80M191.15 699.50V703.80M239.70 699.50V703.80M41.20 699.50H45.50M41.20 654.70H45.50M41.20 609.91H45.50" stroke="#111" stroke-width="1.05" fill="none"/><text x="45.50" y="717.40" text-anchor="middle" font-size="12.61" textLength="17.54" lengthAdjust="spacingAndGlyphs">−2</text><text x="94.05" y="717.40" text-anchor="middle" font-size="12.61" textLength="17.54" lengthAdjust="spacingAndGlyphs">−1</text><text x="142.60" y="717.40" text-anchor="middle" font-size="12.61" textLength="7.57" lengthAdjust="spacingAndGlyphs">0</text><text x="191.15" y="717.40" text-anchor="middle" font-size="12.61" textLength="7.57" lengthAdjust="spacingAndGlyphs">1</text><text x="239.70" y="717.40" text-anchor="middle" font-size="12.61" textLength="7.57" lengthAdjust="spacingAndGlyphs">2</text><text x="36.30" y="703.90" text-anchor="end" font-size="12.61" textLength="7.57" lengthAdjust="spacingAndGlyphs">0</text><text x="36.30" y="659.10" text-anchor="end" font-size="12.61" textLength="15.14" lengthAdjust="spacingAndGlyphs">10</text><text x="36.30" y="614.31" text-anchor="end" font-size="12.61" textLength="15.14" lengthAdjust="spacingAndGlyphs">20</text><text transform="translate(13.60,636.10) rotate(-90)" text-anchor="middle" font-size="12.61" textLength="33.90" lengthAdjust="spacingAndGlyphs"><tspan font-size="12.61">M (D)</tspan></text><text x="141.25" y="545.90" text-anchor="middle" font-size="9.01" textLength="33.72" lengthAdjust="spacingAndGlyphs">MinRMS</text><text x="142.60" y="555.35" text-anchor="middle" font-size="9.01" textLength="11.21" lengthAdjust="spacingAndGlyphs">VS</text><text x="143.95" y="564.80" text-anchor="middle" font-size="9.01" textLength="44.40" lengthAdjust="spacingAndGlyphs">Subjective</text><g fill="#5799c7" stroke="#000" stroke-width="1.1"><rect x="318.53" y="677.10" width="9.68" height="22.40"/><rect x="328.21" y="659.18" width="9.68" height="40.32"/><rect x="337.90" y="614.39" width="9.68" height="85.11"/><rect x="347.58" y="596.47" width="9.68" height="103.03"/><rect x="357.26" y="618.87" width="9.68" height="80.63"/><rect x="366.94" y="659.18" width="9.68" height="40.32"/><rect x="376.62" y="641.26" width="9.68" height="58.24"/><rect x="386.30" y="686.06" width="9.68" height="13.44"/><rect x="395.98" y="677.10" width="9.68" height="22.40"/><rect x="405.66" y="695.02" width="9.68" height="4.48"/></g><rect x="266.10" y="572.50" width="194.20" height="127.00" fill="none" stroke="#111" stroke-width="1.2"/><path d="M266.10 699.50V703.80M314.65 699.50V703.80M363.20 699.50V703.80M411.75 699.50V703.80M460.30 699.50V703.80M261.80 699.50H266.10M261.80 654.70H266.10M261.80 609.91H266.10" stroke="#111" stroke-width="1.05" fill="none"/><text x="266.10" y="717.40" text-anchor="middle" font-size="12.61" textLength="17.54" lengthAdjust="spacingAndGlyphs">−2</text><text x="314.65" y="717.40" text-anchor="middle" font-size="12.61" textLength="17.54" lengthAdjust="spacingAndGlyphs">−1</text><text x="363.20" y="717.40" text-anchor="middle" font-size="12.61" textLength="7.57" lengthAdjust="spacingAndGlyphs">0</text><text x="411.75" y="717.40" text-anchor="middle" font-size="12.61" textLength="7.57" lengthAdjust="spacingAndGlyphs">1</text><text x="460.30" y="717.40" text-anchor="middle" font-size="12.61" textLength="7.57" lengthAdjust="spacingAndGlyphs">2</text><text x="361.85" y="545.90" text-anchor="middle" font-size="9.01" textLength="18.40" lengthAdjust="spacingAndGlyphs">PCM</text><text x="363.20" y="555.35" text-anchor="middle" font-size="9.01" textLength="11.21" lengthAdjust="spacingAndGlyphs">VS</text><text x="364.55" y="564.80" text-anchor="middle" font-size="9.01" textLength="44.40" lengthAdjust="spacingAndGlyphs">Subjective</text><g fill="#5799c7" stroke="#000" stroke-width="1.1"><rect x="535.40" y="650.22" width="11.37" height="49.28"/><rect x="546.77" y="614.39" width="11.37" height="85.11"/><rect x="558.14" y="618.87" width="11.37" height="80.63"/><rect x="569.51" y="609.91" width="11.37" height="89.59"/><rect x="580.89" y="641.26" width="11.37" height="58.24"/><rect x="592.26" y="645.74" width="11.37" height="53.76"/><rect x="603.63" y="659.18" width="11.37" height="40.32"/><rect x="615.01" y="686.06" width="11.37" height="13.44"/></g><rect x="486.70" y="572.50" width="194.20" height="127.00" fill="none" stroke="#111" stroke-width="1.2"/><path d="M486.70 699.50V703.80M535.25 699.50V703.80M583.80 699.50V703.80M632.35 699.50V703.80M680.90 699.50V703.80M482.40 699.50H486.70M482.40 654.70H486.70M482.40 609.91H486.70" stroke="#111" stroke-width="1.05" fill="none"/><text x="486.70" y="717.40" text-anchor="middle" font-size="12.61" textLength="17.54" lengthAdjust="spacingAndGlyphs">−2</text><text x="535.25" y="717.40" text-anchor="middle" font-size="12.61" textLength="17.54" lengthAdjust="spacingAndGlyphs">−1</text><text x="583.80" y="717.40" text-anchor="middle" font-size="12.61" textLength="7.57" lengthAdjust="spacingAndGlyphs">0</text><text x="632.35" y="717.40" text-anchor="middle" font-size="12.61" textLength="7.57" lengthAdjust="spacingAndGlyphs">1</text><text x="680.90" y="717.40" text-anchor="middle" font-size="12.61" textLength="7.57" lengthAdjust="spacingAndGlyphs">2</text><text x="582.45" y="545.90" text-anchor="middle" font-size="9.01" textLength="65.76" lengthAdjust="spacingAndGlyphs">Optimizing VSX</text><text x="583.80" y="555.35" text-anchor="middle" font-size="9.01" textLength="11.21" lengthAdjust="spacingAndGlyphs">VS</text><text x="585.15" y="564.80" text-anchor="middle" font-size="9.01" textLength="44.40" lengthAdjust="spacingAndGlyphs">Subjective</text><g fill="#5799c7" stroke="#000" stroke-width="1.1"><rect x="106.24" y="856.82" width="8.84" height="4.48"/><rect x="115.08" y="843.40" width="8.84" height="17.90"/><rect x="123.92" y="816.54" width="8.84" height="44.76"/><rect x="132.76" y="762.82" width="8.84" height="98.48"/><rect x="141.60" y="753.87" width="8.84" height="107.43"/><rect x="150.44" y="785.20" width="8.84" height="76.10"/><rect x="159.29" y="785.20" width="8.84" height="76.10"/><rect x="168.13" y="825.49" width="8.84" height="35.81"/><rect x="176.97" y="852.35" width="8.84" height="8.95"/></g><rect x="45.50" y="734.40" width="194.20" height="126.90" fill="none" stroke="#111" stroke-width="1.2"/><path d="M45.50 861.30V865.60M94.05 861.30V865.60M142.60 861.30V865.60M191.15 861.30V865.60M239.70 861.30V865.60M41.20 861.30H45.50M41.20 816.54H45.50M41.20 771.78H45.50" stroke="#111" stroke-width="1.05" fill="none"/><text x="45.50" y="879.20" text-anchor="middle" font-size="12.61" textLength="17.54" lengthAdjust="spacingAndGlyphs">−2</text><text x="94.05" y="879.20" text-anchor="middle" font-size="12.61" textLength="17.54" lengthAdjust="spacingAndGlyphs">−1</text><text x="142.60" y="879.20" text-anchor="middle" font-size="12.61" textLength="7.57" lengthAdjust="spacingAndGlyphs">0</text><text x="191.15" y="879.20" text-anchor="middle" font-size="12.61" textLength="7.57" lengthAdjust="spacingAndGlyphs">1</text><text x="239.70" y="879.20" text-anchor="middle" font-size="12.61" textLength="7.57" lengthAdjust="spacingAndGlyphs">2</text><text x="36.30" y="865.70" text-anchor="end" font-size="12.61" textLength="7.57" lengthAdjust="spacingAndGlyphs">0</text><text x="36.30" y="820.94" text-anchor="end" font-size="12.61" textLength="15.14" lengthAdjust="spacingAndGlyphs">10</text><text x="36.30" y="776.18" text-anchor="end" font-size="12.61" textLength="15.14" lengthAdjust="spacingAndGlyphs">20</text><text transform="translate(13.60,797.80) rotate(-90)" text-anchor="middle" font-size="12.61" textLength="34.60" lengthAdjust="spacingAndGlyphs"><tspan font-size="14.51" font-style="italic" font-family="Liberation Serif, serif">J</tspan><tspan font-size="9.08" dy="1.00">0</tspan><tspan font-size="12.61" dy="-1.00"> (D)</tspan></text><g fill="#5799c7" stroke="#000" stroke-width="1.1"><rect x="329.07" y="856.82" width="7.56" height="4.48"/><rect x="336.63" y="847.87" width="7.56" height="13.43"/><rect x="344.19" y="829.97" width="7.56" height="31.33"/><rect x="351.75" y="794.16" width="7.56" height="67.14"/><rect x="359.31" y="740.44" width="7.56" height="120.86"/><rect x="366.87" y="794.16" width="7.56" height="67.14"/><rect x="374.42" y="794.16" width="7.56" height="67.14"/><rect x="381.98" y="798.63" width="7.56" height="62.67"/><rect x="389.54" y="834.44" width="7.56" height="26.86"/><rect x="397.10" y="852.35" width="7.56" height="8.95"/></g><rect x="266.10" y="734.40" width="194.20" height="126.90" fill="none" stroke="#111" stroke-width="1.2"/><path d="M266.10 861.30V865.60M314.65 861.30V865.60M363.20 861.30V865.60M411.75 861.30V865.60M460.30 861.30V865.60M261.80 861.30H266.10M261.80 816.54H266.10M261.80 771.78H266.10" stroke="#111" stroke-width="1.05" fill="none"/><text x="266.10" y="879.20" text-anchor="middle" font-size="12.61" textLength="17.54" lengthAdjust="spacingAndGlyphs">−2</text><text x="314.65" y="879.20" text-anchor="middle" font-size="12.61" textLength="17.54" lengthAdjust="spacingAndGlyphs">−1</text><text x="363.20" y="879.20" text-anchor="middle" font-size="12.61" textLength="7.57" lengthAdjust="spacingAndGlyphs">0</text><text x="411.75" y="879.20" text-anchor="middle" font-size="12.61" textLength="7.57" lengthAdjust="spacingAndGlyphs">1</text><text x="460.30" y="879.20" text-anchor="middle" font-size="12.61" textLength="7.57" lengthAdjust="spacingAndGlyphs">2</text><g fill="#5799c7" stroke="#000" stroke-width="1.1"><rect x="555.59" y="838.92" width="8.39" height="22.38"/><rect x="563.99" y="812.06" width="8.39" height="49.24"/><rect x="572.38" y="776.25" width="8.39" height="85.05"/><rect x="580.77" y="753.87" width="8.39" height="107.43"/><rect x="589.16" y="785.20" width="8.39" height="76.10"/><rect x="597.56" y="807.59" width="8.39" height="53.71"/><rect x="605.95" y="803.11" width="8.39" height="58.19"/><rect x="614.34" y="843.40" width="8.39" height="17.90"/></g><rect x="486.70" y="734.40" width="194.20" height="126.90" fill="none" stroke="#111" stroke-width="1.2"/><path d="M486.70 861.30V865.60M535.25 861.30V865.60M583.80 861.30V865.60M632.35 861.30V865.60M680.90 861.30V865.60M482.40 861.30H486.70M482.40 816.54H486.70M482.40 771.78H486.70" stroke="#111" stroke-width="1.05" fill="none"/><text x="486.70" y="879.20" text-anchor="middle" font-size="12.61" textLength="17.54" lengthAdjust="spacingAndGlyphs">−2</text><text x="535.25" y="879.20" text-anchor="middle" font-size="12.61" textLength="17.54" lengthAdjust="spacingAndGlyphs">−1</text><text x="583.80" y="879.20" text-anchor="middle" font-size="12.61" textLength="7.57" lengthAdjust="spacingAndGlyphs">0</text><text x="632.35" y="879.20" text-anchor="middle" font-size="12.61" textLength="7.57" lengthAdjust="spacingAndGlyphs">1</text><text x="680.90" y="879.20" text-anchor="middle" font-size="12.61" textLength="7.57" lengthAdjust="spacingAndGlyphs">2</text><g fill="#5799c7" stroke="#000" stroke-width="1.1"><rect x="114.10" y="1005.00" width="6.12" height="17.90"/><rect x="120.22" y="973.66" width="6.12" height="49.24"/><rect x="126.35" y="937.85" width="6.12" height="85.05"/><rect x="132.47" y="955.76" width="6.12" height="67.14"/><rect x="138.59" y="906.52" width="6.12" height="116.38"/><rect x="144.71" y="946.80" width="6.12" height="76.10"/><rect x="150.83" y="991.57" width="6.12" height="31.33"/><rect x="156.96" y="1000.52" width="6.12" height="22.38"/><rect x="169.20" y="1018.42" width="6.12" height="4.48"/></g><rect x="45.50" y="896.00" width="194.20" height="126.90" fill="none" stroke="#111" stroke-width="1.2"/><path d="M45.50 1022.90V1027.20M94.05 1022.90V1027.20M142.60 1022.90V1027.20M191.15 1022.90V1027.20M239.70 1022.90V1027.20M41.20 1022.90H45.50M41.20 978.14H45.50M41.20 933.38H45.50" stroke="#111" stroke-width="1.05" fill="none"/><text x="45.50" y="1040.80" text-anchor="middle" font-size="12.61" textLength="17.54" lengthAdjust="spacingAndGlyphs">−2</text><text x="94.05" y="1040.80" text-anchor="middle" font-size="12.61" textLength="17.54" lengthAdjust="spacingAndGlyphs">−1</text><text x="142.60" y="1040.80" text-anchor="middle" font-size="12.61" textLength="7.57" lengthAdjust="spacingAndGlyphs">0</text><text x="191.15" y="1040.80" text-anchor="middle" font-size="12.61" textLength="7.57" lengthAdjust="spacingAndGlyphs">1</text><text x="239.70" y="1040.80" text-anchor="middle" font-size="12.61" textLength="7.57" lengthAdjust="spacingAndGlyphs">2</text><text x="36.30" y="1027.30" text-anchor="end" font-size="12.61" textLength="7.57" lengthAdjust="spacingAndGlyphs">0</text><text x="36.30" y="982.54" text-anchor="end" font-size="12.61" textLength="15.14" lengthAdjust="spacingAndGlyphs">10</text><text x="36.30" y="937.78" text-anchor="end" font-size="12.61" textLength="15.14" lengthAdjust="spacingAndGlyphs">20</text><text transform="translate(13.60,959.80) rotate(-90)" text-anchor="middle" font-size="12.61" textLength="40.20" lengthAdjust="spacingAndGlyphs"><tspan font-size="14.51" font-style="italic" font-family="Liberation Serif, serif">J</tspan><tspan font-size="9.08" dy="1.00">45</tspan><tspan font-size="12.61" dy="-1.00"> (D)</tspan></text><g fill="#5799c7" stroke="#000" stroke-width="1.1"><rect x="335.91" y="1000.52" width="5.93" height="22.38"/><rect x="341.85" y="978.14" width="5.93" height="44.76"/><rect x="347.78" y="928.90" width="5.93" height="94.00"/><rect x="353.71" y="951.28" width="5.93" height="71.62"/><rect x="359.65" y="915.47" width="5.93" height="107.43"/><rect x="365.58" y="946.80" width="5.93" height="76.10"/><rect x="371.51" y="987.09" width="5.93" height="35.81"/><rect x="377.44" y="1009.47" width="5.93" height="13.43"/><rect x="389.31" y="1018.42" width="5.93" height="4.48"/></g><rect x="266.10" y="896.00" width="194.20" height="126.90" fill="none" stroke="#111" stroke-width="1.2"/><path d="M266.10 1022.90V1027.20M314.65 1022.90V1027.20M363.20 1022.90V1027.20M411.75 1022.90V1027.20M460.30 1022.90V1027.20M261.80 1022.90H266.10M261.80 978.14H266.10M261.80 933.38H266.10" stroke="#111" stroke-width="1.05" fill="none"/><text x="266.10" y="1040.80" text-anchor="middle" font-size="12.61" textLength="17.54" lengthAdjust="spacingAndGlyphs">−2</text><text x="314.65" y="1040.80" text-anchor="middle" font-size="12.61" textLength="17.54" lengthAdjust="spacingAndGlyphs">−1</text><text x="363.20" y="1040.80" text-anchor="middle" font-size="12.61" textLength="7.57" lengthAdjust="spacingAndGlyphs">0</text><text x="411.75" y="1040.80" text-anchor="middle" font-size="12.61" textLength="7.57" lengthAdjust="spacingAndGlyphs">1</text><text x="460.30" y="1040.80" text-anchor="middle" font-size="12.61" textLength="7.57" lengthAdjust="spacingAndGlyphs">2</text><g fill="#5799c7" stroke="#000" stroke-width="1.1"><rect x="555.06" y="1000.52" width="5.12" height="22.38"/><rect x="560.17" y="1009.47" width="5.12" height="13.43"/><rect x="565.29" y="960.23" width="5.12" height="62.67"/><rect x="570.40" y="924.42" width="5.12" height="98.48"/><rect x="575.52" y="946.80" width="5.12" height="76.10"/><rect x="580.64" y="919.95" width="5.12" height="102.95"/><rect x="585.75" y="978.14" width="5.12" height="44.76"/><rect x="590.87" y="987.09" width="5.12" height="35.81"/><rect x="595.98" y="1013.95" width="5.12" height="8.95"/><rect x="606.21" y="1018.42" width="5.12" height="4.48"/></g><rect x="486.70" y="896.00" width="194.20" height="126.90" fill="none" stroke="#111" stroke-width="1.2"/><path d="M486.70 1022.90V1027.20M535.25 1022.90V1027.20M583.80 1022.90V1027.20M632.35 1022.90V1027.20M680.90 1022.90V1027.20M482.40 1022.90H486.70M482.40 978.14H486.70M482.40 933.38H486.70" stroke="#111" stroke-width="1.05" fill="none"/><text x="486.70" y="1040.80" text-anchor="middle" font-size="12.61" textLength="17.54" lengthAdjust="spacingAndGlyphs">−2</text><text x="535.25" y="1040.80" text-anchor="middle" font-size="12.61" textLength="17.54" lengthAdjust="spacingAndGlyphs">−1</text><text x="583.80" y="1040.80" text-anchor="middle" font-size="12.61" textLength="7.57" lengthAdjust="spacingAndGlyphs">0</text><text x="632.35" y="1040.80" text-anchor="middle" font-size="12.61" textLength="7.57" lengthAdjust="spacingAndGlyphs">1</text><text x="680.90" y="1040.80" text-anchor="middle" font-size="12.61" textLength="7.57" lengthAdjust="spacingAndGlyphs">2</text></svg></body></html>
